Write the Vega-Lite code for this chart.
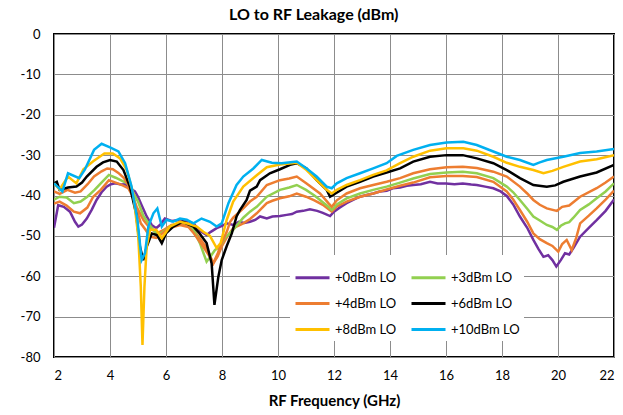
{
"$schema": "https://vega.github.io/schema/vega-lite/v6.json",
"width": 560,
"height": 323,
"autosize": {"type": "none"},
"padding": {"left": 54, "top": 34, "right": 9, "bottom": 58},
"background": "white",
"config": {
  "font": "Lato",
  "view": {"stroke": "black", "strokeWidth": 2},
  "axis": {"gridColor": "#8c8c8c", "gridWidth": 1, "gridOpacity": 1, "domain": false, "ticks": false, "labelColor": "black", "labelFontSize": 13, "labelFont": "Lato"}
},
"title": {"text": "LO to RF Leakage (dBm)", "fontSize": 16, "fontWeight": "bold", "font": "Lato", "color": "black", "anchor": "start", "offset": 5, "dx": 209},
"data": {"values": [
{"s":"+0dBm LO","f":2.0,"v":-48},{"s":"+0dBm LO","f":2.08,"v":-45},{"s":"+0dBm LO","f":2.15,"v":-42.4},{"s":"+0dBm LO","f":2.35,"v":-42.8},{"s":"+0dBm LO","f":2.57,"v":-44},{"s":"+0dBm LO","f":2.75,"v":-46.5},{"s":"+0dBm LO","f":2.87,"v":-47.7},{"s":"+0dBm LO","f":3.0,"v":-47.2},{"s":"+0dBm LO","f":3.17,"v":-45.7},{"s":"+0dBm LO","f":3.35,"v":-43.5},{"s":"+0dBm LO","f":3.52,"v":-41.1},{"s":"+0dBm LO","f":3.7,"v":-39.2},{"s":"+0dBm LO","f":3.88,"v":-37.8},{"s":"+0dBm LO","f":4.0,"v":-37.3},{"s":"+0dBm LO","f":4.18,"v":-37},{"s":"+0dBm LO","f":4.4,"v":-37.3},{"s":"+0dBm LO","f":4.55,"v":-37.2},{"s":"+0dBm LO","f":4.71,"v":-38.2},{"s":"+0dBm LO","f":4.89,"v":-39},{"s":"+0dBm LO","f":5.0,"v":-40.3},{"s":"+0dBm LO","f":5.13,"v":-42.4},{"s":"+0dBm LO","f":5.31,"v":-45.2},{"s":"+0dBm LO","f":5.49,"v":-47.3},{"s":"+0dBm LO","f":5.65,"v":-48.1},{"s":"+0dBm LO","f":5.8,"v":-47.2},{"s":"+0dBm LO","f":5.96,"v":-45.7},{"s":"+0dBm LO","f":6.2,"v":-46.3},{"s":"+0dBm LO","f":6.5,"v":-46.1},{"s":"+0dBm LO","f":6.8,"v":-46.4},{"s":"+0dBm LO","f":7.0,"v":-47},{"s":"+0dBm LO","f":7.15,"v":-48.5},{"s":"+0dBm LO","f":7.45,"v":-49.8},{"s":"+0dBm LO","f":7.6,"v":-49},{"s":"+0dBm LO","f":7.81,"v":-48.1},{"s":"+0dBm LO","f":8.0,"v":-47.5},{"s":"+0dBm LO","f":8.17,"v":-46.9},{"s":"+0dBm LO","f":8.4,"v":-47.3},{"s":"+0dBm LO","f":8.6,"v":-46.5},{"s":"+0dBm LO","f":8.8,"v":-46.8},{"s":"+0dBm LO","f":9.0,"v":-46.5},{"s":"+0dBm LO","f":9.2,"v":-46},{"s":"+0dBm LO","f":9.36,"v":-45.2},{"s":"+0dBm LO","f":9.6,"v":-45.7},{"s":"+0dBm LO","f":9.8,"v":-45.2},{"s":"+0dBm LO","f":10.07,"v":-45.1},{"s":"+0dBm LO","f":10.31,"v":-44.8},{"s":"+0dBm LO","f":10.5,"v":-44.6},{"s":"+0dBm LO","f":10.67,"v":-44},{"s":"+0dBm LO","f":10.9,"v":-43.8},{"s":"+0dBm LO","f":11.14,"v":-43.4},{"s":"+0dBm LO","f":11.4,"v":-43.8},{"s":"+0dBm LO","f":11.6,"v":-44.3},{"s":"+0dBm LO","f":11.86,"v":-45.1},{"s":"+0dBm LO","f":12.0,"v":-44},{"s":"+0dBm LO","f":12.2,"v":-43},{"s":"+0dBm LO","f":12.45,"v":-41.9},{"s":"+0dBm LO","f":12.7,"v":-41},{"s":"+0dBm LO","f":12.93,"v":-40.3},{"s":"+0dBm LO","f":13.2,"v":-39.8},{"s":"+0dBm LO","f":13.4,"v":-39.5},{"s":"+0dBm LO","f":13.64,"v":-39},{"s":"+0dBm LO","f":13.88,"v":-38.8},{"s":"+0dBm LO","f":14.1,"v":-38.2},{"s":"+0dBm LO","f":14.36,"v":-38},{"s":"+0dBm LO","f":14.6,"v":-37.6},{"s":"+0dBm LO","f":14.83,"v":-37.4},{"s":"+0dBm LO","f":15.1,"v":-37.2},{"s":"+0dBm LO","f":15.43,"v":-36.6},{"s":"+0dBm LO","f":15.7,"v":-37},{"s":"+0dBm LO","f":16.0,"v":-37},{"s":"+0dBm LO","f":16.3,"v":-37.2},{"s":"+0dBm LO","f":16.6,"v":-37},{"s":"+0dBm LO","f":16.9,"v":-37.3},{"s":"+0dBm LO","f":17.1,"v":-37.4},{"s":"+0dBm LO","f":17.4,"v":-37.8},{"s":"+0dBm LO","f":17.69,"v":-38.2},{"s":"+0dBm LO","f":17.95,"v":-39},{"s":"+0dBm LO","f":18.17,"v":-40.1},{"s":"+0dBm LO","f":18.4,"v":-42.2},{"s":"+0dBm LO","f":18.64,"v":-45.2},{"s":"+0dBm LO","f":18.9,"v":-48},{"s":"+0dBm LO","f":19.12,"v":-51},{"s":"+0dBm LO","f":19.3,"v":-53.2},{"s":"+0dBm LO","f":19.48,"v":-55.2},{"s":"+0dBm LO","f":19.65,"v":-54.8},{"s":"+0dBm LO","f":19.8,"v":-56},{"s":"+0dBm LO","f":19.94,"v":-57.6},{"s":"+0dBm LO","f":20.1,"v":-56},{"s":"+0dBm LO","f":20.25,"v":-54.3},{"s":"+0dBm LO","f":20.4,"v":-54.6},{"s":"+0dBm LO","f":20.55,"v":-53},{"s":"+0dBm LO","f":20.79,"v":-50.2},{"s":"+0dBm LO","f":21.1,"v":-48},{"s":"+0dBm LO","f":21.38,"v":-46.1},{"s":"+0dBm LO","f":21.7,"v":-43.8},{"s":"+0dBm LO","f":22.0,"v":-41},
{"s":"+2dBm LO","f":2.0,"v":-42},{"s":"+2dBm LO","f":2.2,"v":-41.5},{"s":"+2dBm LO","f":2.45,"v":-42.5},{"s":"+2dBm LO","f":2.71,"v":-44},{"s":"+2dBm LO","f":2.93,"v":-44.4},{"s":"+2dBm LO","f":3.19,"v":-43},{"s":"+2dBm LO","f":3.4,"v":-40.3},{"s":"+2dBm LO","f":3.67,"v":-38.6},{"s":"+2dBm LO","f":3.96,"v":-36.2},{"s":"+2dBm LO","f":4.2,"v":-36.8},{"s":"+2dBm LO","f":4.45,"v":-37.5},{"s":"+2dBm LO","f":4.65,"v":-38.2},{"s":"+2dBm LO","f":4.8,"v":-40},{"s":"+2dBm LO","f":4.95,"v":-42.8},{"s":"+2dBm LO","f":5.19,"v":-46},{"s":"+2dBm LO","f":5.43,"v":-48.1},{"s":"+2dBm LO","f":5.7,"v":-49.3},{"s":"+2dBm LO","f":5.9,"v":-48.6},{"s":"+2dBm LO","f":6.2,"v":-47.3},{"s":"+2dBm LO","f":6.5,"v":-47},{"s":"+2dBm LO","f":6.8,"v":-47.5},{"s":"+2dBm LO","f":7.0,"v":-48.7},{"s":"+2dBm LO","f":7.2,"v":-50.5},{"s":"+2dBm LO","f":7.45,"v":-53},{"s":"+2dBm LO","f":7.69,"v":-56.8},{"s":"+2dBm LO","f":7.85,"v":-55},{"s":"+2dBm LO","f":8.0,"v":-52.5},{"s":"+2dBm LO","f":8.2,"v":-50},{"s":"+2dBm LO","f":8.4,"v":-48.1},{"s":"+2dBm LO","f":8.76,"v":-46.9},{"s":"+2dBm LO","f":9.0,"v":-45.8},{"s":"+2dBm LO","f":9.24,"v":-44.4},{"s":"+2dBm LO","f":9.6,"v":-41.9},{"s":"+2dBm LO","f":9.8,"v":-41.3},{"s":"+2dBm LO","f":10.07,"v":-40.7},{"s":"+2dBm LO","f":10.4,"v":-40.2},{"s":"+2dBm LO","f":10.67,"v":-39.5},{"s":"+2dBm LO","f":11.0,"v":-40.3},{"s":"+2dBm LO","f":11.3,"v":-41.2},{"s":"+2dBm LO","f":11.6,"v":-42.3},{"s":"+2dBm LO","f":11.92,"v":-44},{"s":"+2dBm LO","f":12.1,"v":-42.7},{"s":"+2dBm LO","f":12.45,"v":-41.5},{"s":"+2dBm LO","f":12.93,"v":-40.3},{"s":"+2dBm LO","f":13.4,"v":-39.5},{"s":"+2dBm LO","f":13.88,"v":-38.5},{"s":"+2dBm LO","f":14.36,"v":-37.6},{"s":"+2dBm LO","f":14.83,"v":-36.8},{"s":"+2dBm LO","f":15.43,"v":-35.5},{"s":"+2dBm LO","f":16.02,"v":-35.2},{"s":"+2dBm LO","f":16.6,"v":-35.2},{"s":"+2dBm LO","f":17.1,"v":-35.4},{"s":"+2dBm LO","f":17.69,"v":-36.6},{"s":"+2dBm LO","f":18.17,"v":-39},{"s":"+2dBm LO","f":18.4,"v":-41},{"s":"+2dBm LO","f":18.64,"v":-43.6},{"s":"+2dBm LO","f":18.9,"v":-46.5},{"s":"+2dBm LO","f":19.12,"v":-49.4},{"s":"+2dBm LO","f":19.35,"v":-50.8},{"s":"+2dBm LO","f":19.6,"v":-51.8},{"s":"+2dBm LO","f":19.8,"v":-52.5},{"s":"+2dBm LO","f":20.01,"v":-53.9},{"s":"+2dBm LO","f":20.15,"v":-52},{"s":"+2dBm LO","f":20.31,"v":-51},{"s":"+2dBm LO","f":20.49,"v":-53.5},{"s":"+2dBm LO","f":20.65,"v":-50.5},{"s":"+2dBm LO","f":20.79,"v":-46.9},{"s":"+2dBm LO","f":21.1,"v":-45},{"s":"+2dBm LO","f":21.38,"v":-43.2},{"s":"+2dBm LO","f":21.7,"v":-41},{"s":"+2dBm LO","f":22.0,"v":-38.8},
{"s":"+3dBm LO","f":2.0,"v":-41},{"s":"+3dBm LO","f":2.2,"v":-40.3},{"s":"+3dBm LO","f":2.45,"v":-40.5},{"s":"+3dBm LO","f":2.71,"v":-41.9},{"s":"+3dBm LO","f":2.95,"v":-41.5},{"s":"+3dBm LO","f":3.19,"v":-40.3},{"s":"+3dBm LO","f":3.45,"v":-38.6},{"s":"+3dBm LO","f":3.67,"v":-37},{"s":"+3dBm LO","f":3.96,"v":-34.9},{"s":"+3dBm LO","f":4.2,"v":-35.6},{"s":"+3dBm LO","f":4.38,"v":-36.2},{"s":"+3dBm LO","f":4.62,"v":-37},{"s":"+3dBm LO","f":4.8,"v":-39},{"s":"+3dBm LO","f":5.0,"v":-41.5},{"s":"+3dBm LO","f":5.19,"v":-45},{"s":"+3dBm LO","f":5.43,"v":-47.4},{"s":"+3dBm LO","f":5.7,"v":-50},{"s":"+3dBm LO","f":5.9,"v":-49},{"s":"+3dBm LO","f":6.2,"v":-47.5},{"s":"+3dBm LO","f":6.5,"v":-46.5},{"s":"+3dBm LO","f":6.8,"v":-47},{"s":"+3dBm LO","f":7.0,"v":-48.6},{"s":"+3dBm LO","f":7.21,"v":-51.8},{"s":"+3dBm LO","f":7.45,"v":-56.4},{"s":"+3dBm LO","f":7.6,"v":-55},{"s":"+3dBm LO","f":7.75,"v":-53.5},{"s":"+3dBm LO","f":7.93,"v":-52.7},{"s":"+3dBm LO","f":8.1,"v":-50.5},{"s":"+3dBm LO","f":8.4,"v":-48.5},{"s":"+3dBm LO","f":8.76,"v":-45.5},{"s":"+3dBm LO","f":9.0,"v":-44},{"s":"+3dBm LO","f":9.24,"v":-42.8},{"s":"+3dBm LO","f":9.6,"v":-40.3},{"s":"+3dBm LO","f":10.07,"v":-38.6},{"s":"+3dBm LO","f":10.4,"v":-38},{"s":"+3dBm LO","f":10.67,"v":-37.4},{"s":"+3dBm LO","f":11.0,"v":-38.6},{"s":"+3dBm LO","f":11.3,"v":-40},{"s":"+3dBm LO","f":11.5,"v":-41.1},{"s":"+3dBm LO","f":11.8,"v":-42.8},{"s":"+3dBm LO","f":11.92,"v":-43.6},{"s":"+3dBm LO","f":12.1,"v":-42.2},{"s":"+3dBm LO","f":12.45,"v":-40.7},{"s":"+3dBm LO","f":12.93,"v":-39.5},{"s":"+3dBm LO","f":13.4,"v":-38.6},{"s":"+3dBm LO","f":13.88,"v":-37.8},{"s":"+3dBm LO","f":14.36,"v":-36.8},{"s":"+3dBm LO","f":14.83,"v":-35.8},{"s":"+3dBm LO","f":15.43,"v":-34.7},{"s":"+3dBm LO","f":16.02,"v":-34.3},{"s":"+3dBm LO","f":16.6,"v":-34.1},{"s":"+3dBm LO","f":17.1,"v":-34.5},{"s":"+3dBm LO","f":17.69,"v":-35.7},{"s":"+3dBm LO","f":18.17,"v":-37.8},{"s":"+3dBm LO","f":18.4,"v":-39.2},{"s":"+3dBm LO","f":18.64,"v":-41.1},{"s":"+3dBm LO","f":18.9,"v":-43.3},{"s":"+3dBm LO","f":19.12,"v":-45.2},{"s":"+3dBm LO","f":19.35,"v":-46.2},{"s":"+3dBm LO","f":19.6,"v":-47.3},{"s":"+3dBm LO","f":19.8,"v":-47.8},{"s":"+3dBm LO","f":19.96,"v":-48.5},{"s":"+3dBm LO","f":20.1,"v":-47.5},{"s":"+3dBm LO","f":20.25,"v":-46.9},{"s":"+3dBm LO","f":20.4,"v":-46.6},{"s":"+3dBm LO","f":20.55,"v":-45.5},{"s":"+3dBm LO","f":20.79,"v":-43.6},{"s":"+3dBm LO","f":21.1,"v":-42.2},{"s":"+3dBm LO","f":21.38,"v":-40.7},{"s":"+3dBm LO","f":21.7,"v":-39},{"s":"+3dBm LO","f":22.0,"v":-37},
{"s":"+4dBm LO","f":2.0,"v":-39},{"s":"+4dBm LO","f":2.2,"v":-39.6},{"s":"+4dBm LO","f":2.48,"v":-38.6},{"s":"+4dBm LO","f":2.75,"v":-39.3},{"s":"+4dBm LO","f":2.95,"v":-39},{"s":"+4dBm LO","f":3.2,"v":-37.2},{"s":"+4dBm LO","f":3.43,"v":-35.3},{"s":"+4dBm LO","f":3.7,"v":-34},{"s":"+4dBm LO","f":3.9,"v":-33.3},{"s":"+4dBm LO","f":4.1,"v":-33.5},{"s":"+4dBm LO","f":4.3,"v":-34.4},{"s":"+4dBm LO","f":4.5,"v":-35.7},{"s":"+4dBm LO","f":4.7,"v":-38},{"s":"+4dBm LO","f":4.86,"v":-41.1},{"s":"+4dBm LO","f":5.1,"v":-46.9},{"s":"+4dBm LO","f":5.27,"v":-48.5},{"s":"+4dBm LO","f":5.43,"v":-50.2},{"s":"+4dBm LO","f":5.65,"v":-50.5},{"s":"+4dBm LO","f":5.85,"v":-49.5},{"s":"+4dBm LO","f":6.1,"v":-48.1},{"s":"+4dBm LO","f":6.5,"v":-47.3},{"s":"+4dBm LO","f":6.8,"v":-47.8},{"s":"+4dBm LO","f":7.0,"v":-49.4},{"s":"+4dBm LO","f":7.33,"v":-52.7},{"s":"+4dBm LO","f":7.55,"v":-55},{"s":"+4dBm LO","f":7.69,"v":-56.8},{"s":"+4dBm LO","f":7.85,"v":-54.3},{"s":"+4dBm LO","f":8.0,"v":-51.5},{"s":"+4dBm LO","f":8.17,"v":-49},{"s":"+4dBm LO","f":8.29,"v":-46.5},{"s":"+4dBm LO","f":8.4,"v":-45.5},{"s":"+4dBm LO","f":8.76,"v":-43.2},{"s":"+4dBm LO","f":9.0,"v":-41.5},{"s":"+4dBm LO","f":9.24,"v":-40.3},{"s":"+4dBm LO","f":9.6,"v":-37.4},{"s":"+4dBm LO","f":10.07,"v":-36.2},{"s":"+4dBm LO","f":10.4,"v":-35.8},{"s":"+4dBm LO","f":10.67,"v":-35.3},{"s":"+4dBm LO","f":11.02,"v":-37},{"s":"+4dBm LO","f":11.5,"v":-39.5},{"s":"+4dBm LO","f":11.8,"v":-41.9},{"s":"+4dBm LO","f":11.92,"v":-42.8},{"s":"+4dBm LO","f":12.1,"v":-41.2},{"s":"+4dBm LO","f":12.45,"v":-39.5},{"s":"+4dBm LO","f":12.93,"v":-38.2},{"s":"+4dBm LO","f":13.4,"v":-37.4},{"s":"+4dBm LO","f":13.88,"v":-36.6},{"s":"+4dBm LO","f":14.36,"v":-35.7},{"s":"+4dBm LO","f":14.83,"v":-34.5},{"s":"+4dBm LO","f":15.43,"v":-33.5},{"s":"+4dBm LO","f":16.02,"v":-33},{"s":"+4dBm LO","f":16.6,"v":-32.9},{"s":"+4dBm LO","f":17.1,"v":-33.2},{"s":"+4dBm LO","f":17.69,"v":-34.1},{"s":"+4dBm LO","f":18.17,"v":-35.3},{"s":"+4dBm LO","f":18.64,"v":-37.8},{"s":"+4dBm LO","f":18.9,"v":-39.5},{"s":"+4dBm LO","f":19.12,"v":-41.1},{"s":"+4dBm LO","f":19.35,"v":-42.3},{"s":"+4dBm LO","f":19.6,"v":-43.2},{"s":"+4dBm LO","f":19.96,"v":-43.8},{"s":"+4dBm LO","f":20.15,"v":-42.8},{"s":"+4dBm LO","f":20.4,"v":-42.5},{"s":"+4dBm LO","f":20.79,"v":-40.3},{"s":"+4dBm LO","f":21.38,"v":-38.2},{"s":"+4dBm LO","f":21.7,"v":-36.8},{"s":"+4dBm LO","f":22.0,"v":-35.3},
{"s":"+6dBm LO","f":2.0,"v":-37},{"s":"+6dBm LO","f":2.1,"v":-36.6},{"s":"+6dBm LO","f":2.2,"v":-38.6},{"s":"+6dBm LO","f":2.5,"v":-38},{"s":"+6dBm LO","f":2.8,"v":-37.8},{"s":"+6dBm LO","f":3.0,"v":-36.8},{"s":"+6dBm LO","f":3.17,"v":-35.3},{"s":"+6dBm LO","f":3.52,"v":-32.9},{"s":"+6dBm LO","f":3.75,"v":-31.8},{"s":"+6dBm LO","f":4.0,"v":-31.2},{"s":"+6dBm LO","f":4.24,"v":-31.6},{"s":"+6dBm LO","f":4.48,"v":-33.7},{"s":"+6dBm LO","f":4.71,"v":-37.8},{"s":"+6dBm LO","f":4.93,"v":-44.4},{"s":"+6dBm LO","f":5.07,"v":-52.7},{"s":"+6dBm LO","f":5.19,"v":-56},{"s":"+6dBm LO","f":5.31,"v":-52.7},{"s":"+6dBm LO","f":5.49,"v":-49.4},{"s":"+6dBm LO","f":5.68,"v":-49.8},{"s":"+6dBm LO","f":5.85,"v":-51.8},{"s":"+6dBm LO","f":6.0,"v":-49.4},{"s":"+6dBm LO","f":6.26,"v":-47.7},{"s":"+6dBm LO","f":6.6,"v":-46.5},{"s":"+6dBm LO","f":6.98,"v":-47.7},{"s":"+6dBm LO","f":7.2,"v":-49.4},{"s":"+6dBm LO","f":7.45,"v":-51.8},{"s":"+6dBm LO","f":7.63,"v":-56.8},{"s":"+6dBm LO","f":7.73,"v":-67.1},{"s":"+6dBm LO","f":7.87,"v":-60.1},{"s":"+6dBm LO","f":7.99,"v":-56},{"s":"+6dBm LO","f":8.17,"v":-52.5},{"s":"+6dBm LO","f":8.35,"v":-49.4},{"s":"+6dBm LO","f":8.52,"v":-45.2},{"s":"+6dBm LO","f":8.64,"v":-43.6},{"s":"+6dBm LO","f":8.88,"v":-41.1},{"s":"+6dBm LO","f":9.0,"v":-38.8},{"s":"+6dBm LO","f":9.24,"v":-37.8},{"s":"+6dBm LO","f":9.36,"v":-36.2},{"s":"+6dBm LO","f":9.71,"v":-34.5},{"s":"+6dBm LO","f":10.07,"v":-33.5},{"s":"+6dBm LO","f":10.43,"v":-32.4},{"s":"+6dBm LO","f":10.67,"v":-32},{"s":"+6dBm LO","f":11.02,"v":-33.3},{"s":"+6dBm LO","f":11.38,"v":-36.2},{"s":"+6dBm LO","f":11.74,"v":-38.6},{"s":"+6dBm LO","f":11.86,"v":-40.3},{"s":"+6dBm LO","f":12.05,"v":-39.5},{"s":"+6dBm LO","f":12.45,"v":-37.8},{"s":"+6dBm LO","f":12.93,"v":-36.6},{"s":"+6dBm LO","f":13.4,"v":-35.3},{"s":"+6dBm LO","f":13.88,"v":-34.3},{"s":"+6dBm LO","f":14.36,"v":-33.3},{"s":"+6dBm LO","f":14.83,"v":-31.6},{"s":"+6dBm LO","f":15.43,"v":-30.4},{"s":"+6dBm LO","f":16.02,"v":-30},{"s":"+6dBm LO","f":16.6,"v":-30},{"s":"+6dBm LO","f":17.1,"v":-30.8},{"s":"+6dBm LO","f":17.69,"v":-32},{"s":"+6dBm LO","f":18.17,"v":-33.7},{"s":"+6dBm LO","f":18.64,"v":-35.7},{"s":"+6dBm LO","f":19.12,"v":-37.4},{"s":"+6dBm LO","f":19.6,"v":-37.8},{"s":"+6dBm LO","f":19.9,"v":-37.5},{"s":"+6dBm LO","f":20.19,"v":-36.6},{"s":"+6dBm LO","f":20.79,"v":-35.3},{"s":"+6dBm LO","f":21.38,"v":-34.3},{"s":"+6dBm LO","f":22.0,"v":-32.4},
{"s":"+8dBm LO","f":2.0,"v":-37},{"s":"+8dBm LO","f":2.2,"v":-38.5},{"s":"+8dBm LO","f":2.5,"v":-35.3},{"s":"+8dBm LO","f":2.8,"v":-37},{"s":"+8dBm LO","f":3.05,"v":-33.5},{"s":"+8dBm LO","f":3.4,"v":-31.5},{"s":"+8dBm LO","f":3.8,"v":-29.6},{"s":"+8dBm LO","f":4.1,"v":-29.6},{"s":"+8dBm LO","f":4.36,"v":-30.8},{"s":"+8dBm LO","f":4.6,"v":-33.7},{"s":"+8dBm LO","f":4.83,"v":-39.5},{"s":"+8dBm LO","f":5.01,"v":-50.2},{"s":"+8dBm LO","f":5.1,"v":-62.6},{"s":"+8dBm LO","f":5.16,"v":-77},{"s":"+8dBm LO","f":5.23,"v":-62.6},{"s":"+8dBm LO","f":5.31,"v":-52.7},{"s":"+8dBm LO","f":5.43,"v":-48.5},{"s":"+8dBm LO","f":5.65,"v":-48.5},{"s":"+8dBm LO","f":5.85,"v":-50.6},{"s":"+8dBm LO","f":6.14,"v":-47.7},{"s":"+8dBm LO","f":6.5,"v":-46.5},{"s":"+8dBm LO","f":6.8,"v":-47},{"s":"+8dBm LO","f":7.1,"v":-47.7},{"s":"+8dBm LO","f":7.33,"v":-49},{"s":"+8dBm LO","f":7.57,"v":-50},{"s":"+8dBm LO","f":7.81,"v":-53},{"s":"+8dBm LO","f":7.95,"v":-51.8},{"s":"+8dBm LO","f":8.17,"v":-46},{"s":"+8dBm LO","f":8.4,"v":-41.5},{"s":"+8dBm LO","f":8.76,"v":-37.8},{"s":"+8dBm LO","f":9.24,"v":-35},{"s":"+8dBm LO","f":9.6,"v":-33},{"s":"+8dBm LO","f":10.07,"v":-32.3},{"s":"+8dBm LO","f":10.67,"v":-31.9},{"s":"+8dBm LO","f":11.02,"v":-33.7},{"s":"+8dBm LO","f":11.38,"v":-36.2},{"s":"+8dBm LO","f":11.74,"v":-38.6},{"s":"+8dBm LO","f":11.92,"v":-39.5},{"s":"+8dBm LO","f":12.1,"v":-38.6},{"s":"+8dBm LO","f":12.45,"v":-37.4},{"s":"+8dBm LO","f":12.93,"v":-36.2},{"s":"+8dBm LO","f":13.4,"v":-34.9},{"s":"+8dBm LO","f":13.88,"v":-33.8},{"s":"+8dBm LO","f":14.36,"v":-32},{"s":"+8dBm LO","f":14.83,"v":-30.4},{"s":"+8dBm LO","f":15.43,"v":-28.9},{"s":"+8dBm LO","f":16.02,"v":-28.3},{"s":"+8dBm LO","f":16.62,"v":-28.3},{"s":"+8dBm LO","f":17.1,"v":-28.9},{"s":"+8dBm LO","f":17.69,"v":-30.4},{"s":"+8dBm LO","f":18.17,"v":-31.9},{"s":"+8dBm LO","f":18.64,"v":-32.9},{"s":"+8dBm LO","f":19.12,"v":-33.7},{"s":"+8dBm LO","f":19.48,"v":-34.5},{"s":"+8dBm LO","f":19.8,"v":-33.9},{"s":"+8dBm LO","f":20.19,"v":-32.9},{"s":"+8dBm LO","f":20.79,"v":-31.6},{"s":"+8dBm LO","f":21.38,"v":-31},{"s":"+8dBm LO","f":22.0,"v":-30},
{"s":"+10dBm LO","f":2.0,"v":-37},{"s":"+10dBm LO","f":2.3,"v":-39},{"s":"+10dBm LO","f":2.5,"v":-34.5},{"s":"+10dBm LO","f":2.9,"v":-35.7},{"s":"+10dBm LO","f":3.1,"v":-33.6},{"s":"+10dBm LO","f":3.43,"v":-28.7},{"s":"+10dBm LO","f":3.7,"v":-27.2},{"s":"+10dBm LO","f":4.0,"v":-28.1},{"s":"+10dBm LO","f":4.3,"v":-29.1},{"s":"+10dBm LO","f":4.54,"v":-32},{"s":"+10dBm LO","f":4.77,"v":-37.8},{"s":"+10dBm LO","f":4.98,"v":-46},{"s":"+10dBm LO","f":5.13,"v":-56},{"s":"+10dBm LO","f":5.25,"v":-54.3},{"s":"+10dBm LO","f":5.37,"v":-47.7},{"s":"+10dBm LO","f":5.55,"v":-44.4},{"s":"+10dBm LO","f":5.69,"v":-43.2},{"s":"+10dBm LO","f":5.85,"v":-47.7},{"s":"+10dBm LO","f":6.02,"v":-46},{"s":"+10dBm LO","f":6.25,"v":-46.5},{"s":"+10dBm LO","f":6.5,"v":-45.7},{"s":"+10dBm LO","f":6.74,"v":-46},{"s":"+10dBm LO","f":6.98,"v":-46.9},{"s":"+10dBm LO","f":7.27,"v":-45.7},{"s":"+10dBm LO","f":7.57,"v":-46.5},{"s":"+10dBm LO","f":7.81,"v":-47.7},{"s":"+10dBm LO","f":7.99,"v":-46.9},{"s":"+10dBm LO","f":8.23,"v":-41.9},{"s":"+10dBm LO","f":8.52,"v":-37.4},{"s":"+10dBm LO","f":8.76,"v":-35.3},{"s":"+10dBm LO","f":9.12,"v":-33.3},{"s":"+10dBm LO","f":9.42,"v":-31.2},{"s":"+10dBm LO","f":9.78,"v":-31.9},{"s":"+10dBm LO","f":10.13,"v":-32},{"s":"+10dBm LO","f":10.67,"v":-31.6},{"s":"+10dBm LO","f":11.02,"v":-33.3},{"s":"+10dBm LO","f":11.38,"v":-35.3},{"s":"+10dBm LO","f":11.74,"v":-37.8},{"s":"+10dBm LO","f":11.92,"v":-38.2},{"s":"+10dBm LO","f":12.1,"v":-37},{"s":"+10dBm LO","f":12.45,"v":-35.7},{"s":"+10dBm LO","f":12.93,"v":-34.5},{"s":"+10dBm LO","f":13.4,"v":-33.3},{"s":"+10dBm LO","f":13.88,"v":-32},{"s":"+10dBm LO","f":14.24,"v":-30.2},{"s":"+10dBm LO","f":14.83,"v":-28.7},{"s":"+10dBm LO","f":15.43,"v":-27.5},{"s":"+10dBm LO","f":16.02,"v":-26.9},{"s":"+10dBm LO","f":16.62,"v":-26.7},{"s":"+10dBm LO","f":17.1,"v":-27.5},{"s":"+10dBm LO","f":17.69,"v":-29.1},{"s":"+10dBm LO","f":18.17,"v":-30.4},{"s":"+10dBm LO","f":18.64,"v":-31.2},{"s":"+10dBm LO","f":19.12,"v":-32.4},{"s":"+10dBm LO","f":19.35,"v":-31.8},{"s":"+10dBm LO","f":19.6,"v":-31.2},{"s":"+10dBm LO","f":20.19,"v":-30.4},{"s":"+10dBm LO","f":20.79,"v":-29.5},{"s":"+10dBm LO","f":21.38,"v":-29.1},{"s":"+10dBm LO","f":22.0,"v":-28.5}
]},
"mark": {"type": "line", "strokeWidth": 2.5, "clip": true},
"encoding": {
  "x": {"field": "f", "type": "quantitative", "scale": {"domain": [2, 22], "nice": false},
        "axis": {"values": [2,4,6,8,10,12,14,16,18,20,22], "grid": true, "labelPadding": 12, "title": "RF Frequency (GHz)", "titleFontSize": 15, "titleFontWeight": "bold", "titleColor": "black", "titlePadding": 11}},
  "y": {"field": "v", "type": "quantitative", "scale": {"domain": [-80, 0], "nice": false},
        "axis": {"values": [-80,-70,-60,-50,-40,-30,-20,-10,0], "grid": true, "labelPadding": 14, "title": null, "labelExpr": "'' + datum.value"}},
  "color": {"field": "s", "type": "nominal", "sort": null,
    "scale": {"domain": ["+0dBm LO","+2dBm LO","+3dBm LO","+4dBm LO","+6dBm LO","+8dBm LO","+10dBm LO"],
              "range": ["#7030A0","#ED7D31","#92D050","#ED7D31","#000000","#FFC000","#00B0F0"]},
    "legend": {"values": ["+0dBm LO","+3dBm LO","+4dBm LO","+6dBm LO","+8dBm LO","+10dBm LO"],
      "orient": "none", "legendX": 236, "legendY": 221, "columns": 2, "direction": "horizontal", "title": null,
      "symbolType": "stroke", "symbolSize": 1156, "symbolStrokeWidth": 3,
      "labelFontSize": 13, "labelFont": "Lato", "labelColor": "black", "labelOffset": 4,
      "rowPadding": -10, "columnPadding": 8, "fillColor": "white", "padding": 4}
  }
}
}
